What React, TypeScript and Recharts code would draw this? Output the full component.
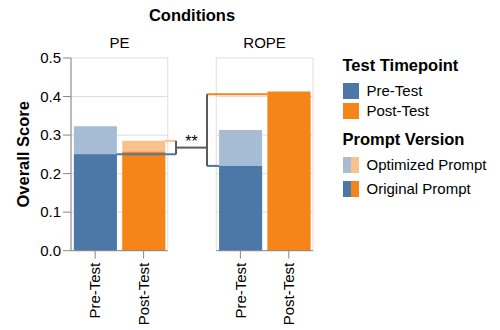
import React from 'react';
import {
  ComposedChart,
  Bar,
  Cell,
  XAxis,
  YAxis,
  ReferenceArea,
  ReferenceLine,
  Legend,
} from 'recharts';

const conditions = ['PE', 'ROPE'];
const timepoints = ['Pre-Test', 'Post-Test'];
const promptVersions = ['Optimized Prompt', 'Original Prompt'];

// scores in timepoint order (Pre-Test, Post-Test)
const peOriginal = [0.25, 0.257];
const peOptimized = [0.323, 0.285];
const ropeOriginal = [0.22, 0.413];
const ropeOptimized = [0.313, 0.406];

const yTicks = [0, 0.1, 0.2, 0.3, 0.4, 0.5];

const darkColors = ['#4c78a8', '#f58518'];
const lightColors = ['#a6bcd4', '#fac28b'];
const FONT = '"Liberation Sans", Arial, sans-serif';

const scoreSets = [
  { original: peOriginal, optimized: peOptimized },
  { original: ropeOriginal, optimized: ropeOptimized },
];

// each facet takes two slots on the x scale, with one empty slot between facets
const rows = conditions.flatMap((condition, c) =>
  timepoints.map((timepoint, t) => ({
    condition,
    timepoint,
    t,
    slot: c * 3 + t + 0.5,
    original: scoreSets[c].original[t],
    optimized: scoreSets[c].optimized[t],
  }))
);
const slotTicks = rows.map(r => r.slot);
const facets = conditions.map((name, c) => ({ name, x1: c * 3, x2: c * 3 + 2 }));

// significance bracket, in data units
const BAR_HALF = 0.44;
const peArmX = 2.17;
const ropeArmX = 2.81;
const peLow = peOriginal[0];
const peHigh = peOptimized[1];
const ropeLow = ropeOriginal[0];
const ropeHigh = ropeOptimized[1];
const joinY = (peLow + peHigh) / 2;

const bracketSegments = [
  { from: [rows[0].slot + BAR_HALF, peLow], to: [peArmX, peLow], color: darkColors[0] },
  { from: [rows[1].slot + BAR_HALF, peHigh], to: [peArmX, peHigh], color: lightColors[1] },
  { from: [ropeArmX, ropeLow], to: [rows[2].slot - BAR_HALF, ropeLow], color: darkColors[0] },
  { from: [ropeArmX, ropeHigh], to: [rows[3].slot - BAR_HALF, ropeHigh], color: darkColors[1] },
  { from: [peArmX, peLow], to: [peArmX, peHigh], color: '#5a5a5a' },
  { from: [ropeArmX, ropeLow], to: [ropeArmX, ropeHigh], color: '#5a5a5a' },
];

const TimepointTick = (props: any) => {
  const { x, y, payload } = props;
  const row = rows.find(r => r.slot === payload.value);
  return (
    <text
      transform={`translate(${x},${y}) rotate(-90)`}
      textAnchor="end"
      dy="0.35em"
      fontSize={15}
      fill="#000"
      fontFamily={FONT}
    >
      {row ? row.timepoint : ''}
    </text>
  );
};

const titleStyle: React.CSSProperties = {
  position: 'absolute',
  left: 0,
  fontSize: 16.5,
  fontWeight: 'bold',
  lineHeight: '19px',
  whiteSpace: 'nowrap',
};

const rowStyle: React.CSSProperties = {
  position: 'absolute',
  left: 0,
  height: 16,
  display: 'flex',
  alignItems: 'center',
  whiteSpace: 'nowrap',
};

const ScoreLegend = () => (
  <div style={{ position: 'relative', width: 158, height: 210, color: '#000', fontFamily: FONT }}>
    <div style={{ ...titleStyle, top: 55.5 }}>Test Timepoint</div>
    {timepoints.map((tp, i) => (
      <div key={tp} style={{ ...rowStyle, top: 83 + i * 20 }}>
        <span style={{ display: 'inline-block', width: 16, height: 16, background: darkColors[i] }} />
        <span style={{ marginLeft: 8, fontSize: 15, lineHeight: '16px' }}>{tp}</span>
      </div>
    ))}
    <div style={{ ...titleStyle, top: 129.8 }}>Prompt Version</div>
    {promptVersions.map((pv, i) => {
      const colors = i === 0 ? lightColors : darkColors;
      return (
        <div key={pv} style={{ ...rowStyle, top: 157 + i * 23.5 }}>
          <span style={{ display: 'inline-block', width: 8, height: 16, background: colors[0] }} />
          <span style={{ display: 'inline-block', width: 8, height: 16, background: colors[1] }} />
          <span style={{ marginLeft: 8, fontSize: 15, lineHeight: '16px' }}>{pv}</span>
        </div>
      );
    })}
  </div>
);

const App = () => {
  return (
    <div style={{ position: 'absolute', left: 0, top: 0, fontFamily: FONT }}>
      <ComposedChart
        width={500}
        height={330}
        data={rows}
        margin={{ top: 58, right: 187, bottom: 9.3, left: 0 }}
        barCategoryGap="6%"
        barGap={0}
      >
        <XAxis
          dataKey="slot"
          type="number"
          domain={[0, 5]}
          ticks={slotTicks}
          interval={0}
          tick={<TimepointTick />}
          tickLine={{ stroke: '#888' }}
          axisLine={false}
          tickSize={8}
          tickMargin={4}
          height={70}
        />
        <XAxis xAxisId="overlay" dataKey="slot" type="number" domain={[0, 5]} hide />
        <YAxis
          domain={[0, 0.5]}
          ticks={yTicks}
          interval={0}
          tickFormatter={(v: number) => v.toFixed(1)}
          width={71}
          tickSize={8}
          tick={{ fontSize: 15, fill: '#000' }}
          axisLine={{ stroke: '#888' }}
          tickLine={{ stroke: '#888' }}
          label={{
            value: 'Overall Score',
            angle: -90,
            position: 'insideLeft',
            offset: 23.4,
            fontSize: 16.5,
            fontWeight: 'bold',
            fill: '#000',
            style: { textAnchor: 'middle' },
          }}
        />

        {/* grid inside each facet cell */}
        {facets.flatMap(f =>
          yTicks.slice(1, -1).map(v => (
            <ReferenceLine
              key={`${f.name}-grid-${v}`}
              segment={[{ x: f.x1, y: v }, { x: f.x2, y: v }]}
              stroke="#ddd"
              zIndex={-100}
            />
          ))
        )}
        {facets.map(f => (
          <ReferenceArea
            key={`${f.name}-cell`}
            x1={f.x1}
            x2={f.x2}
            y1={0}
            y2={0.5}
            fill="none"
            stroke="#ddd"
            zIndex={-100}
            label={{ value: f.name, position: 'top', offset: 10.3, fontSize: 15, fill: '#000' }}
          />
        ))}
        <ReferenceArea
          x1={0}
          x2={5}
          y1={0}
          y2={0.5}
          fill="none"
          stroke="none"
          zIndex={-100}
          label={{ value: 'Conditions', position: 'top', offset: 37.3, fontSize: 16.5, fontWeight: 'bold', fill: '#000' }}
        />

        <Bar dataKey="optimized" isAnimationActive={false}>
          {rows.map(r => (
            <Cell key={`opt-${r.slot}`} fill={lightColors[r.t]} />
          ))}
        </Bar>
        <Bar dataKey="original" xAxisId="overlay" isAnimationActive={false}>
          {rows.map(r => (
            <Cell key={`orig-${r.slot}`} fill={darkColors[r.t]} />
          ))}
        </Bar>

        {facets.map(f => (
          <ReferenceLine
            key={`${f.name}-domain`}
            segment={[{ x: f.x1, y: 0 }, { x: f.x2, y: 0 }]}
            stroke="#888"
            zIndex={1400}
          />
        ))}
        {bracketSegments.map((s, i) => (
          <ReferenceLine
            key={`bracket-${i}`}
            segment={[{ x: s.from[0], y: s.from[1] }, { x: s.to[0], y: s.to[1] }]}
            stroke={s.color}
            strokeWidth={2}
            zIndex={1500}
          />
        ))}
        <ReferenceLine
          segment={[{ x: peArmX, y: joinY }, { x: ropeArmX, y: joinY }]}
          stroke="#5a5a5a"
          strokeWidth={2}
          zIndex={1500}
          label={{ value: '**', position: 'top', offset: 1, fontSize: 16, fill: '#000' }}
        />

        <Legend
          layout="vertical"
          align="center"
          verticalAlign="middle"
          wrapperStyle={{ left: 342.5, top: 0, width: 158, height: 210 }}
          content={() => <ScoreLegend />}
        />
      </ComposedChart>
    </div>
  );
};

export default App;
